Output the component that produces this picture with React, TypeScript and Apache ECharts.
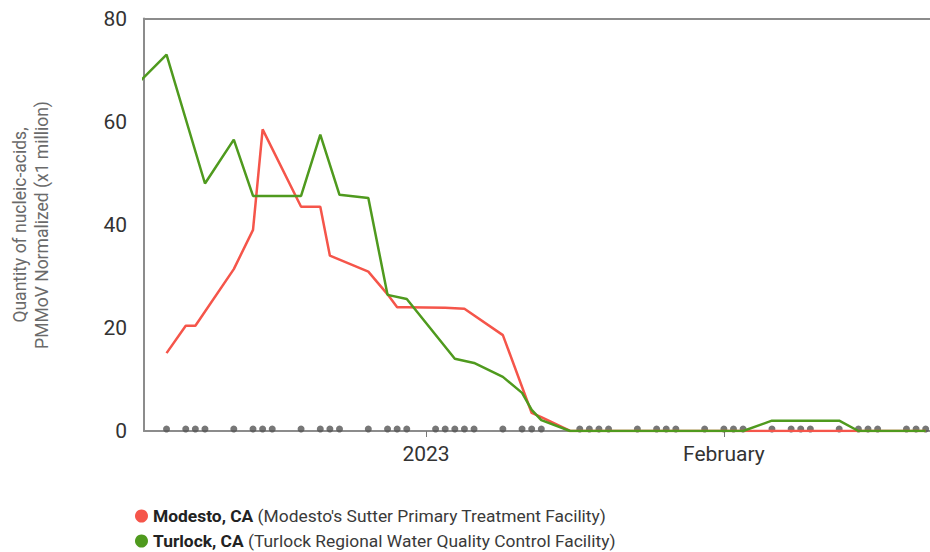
import React, { useEffect, useRef } from "react";
import * as echarts from "echarts";

const modestoDates = [
  "2022-12-05", "2022-12-07", "2022-12-08", "2022-12-12", "2022-12-14", "2022-12-15",
  "2022-12-19", "2022-12-21", "2022-12-22", "2022-12-26", "2022-12-28", "2022-12-29",
  "2022-12-30", "2023-01-03", "2023-01-05", "2023-01-09", "2023-01-12", "2023-01-13",
  "2023-01-16", "2023-01-20", "2023-01-27", "2023-02-03", "2023-02-10", "2023-02-17",
  "2023-02-22",
];
const modestoValues = [
  15.1, 20.4, 20.4, 31.4, 39.0, 58.5,
  43.5, 43.5, 34.0, 30.9, 26.5, 24.0,
  24.0, 23.9, 23.7, 18.6, 3.5, 2.7,
  0, 0, 0, 0, 0, 0,
  0,
];

const turlockDates = [
  "2022-12-01", "2022-12-05", "2022-12-09", "2022-12-12", "2022-12-14", "2022-12-19",
  "2022-12-21", "2022-12-23", "2022-12-26", "2022-12-28", "2022-12-30", "2023-01-04",
  "2023-01-06", "2023-01-09", "2023-01-11", "2023-01-12", "2023-01-13", "2023-01-16",
  "2023-01-20", "2023-01-27", "2023-02-03", "2023-02-06", "2023-02-13", "2023-02-15",
  "2023-02-17", "2023-02-22",
];
const turlockValues = [
  65.5, 73.0, 48.0, 56.5, 45.6, 45.6,
  57.5, 45.8, 45.2, 26.4, 25.6, 14.0,
  13.2, 10.5, 7.4, 4.1, 2.1, 0,
  0, 0, 0, 2.0, 2.0, 0,
  0, 0,
];

const sampleDates = [
  "2022-12-05", "2022-12-07", "2022-12-08", "2022-12-09",
  "2022-12-12", "2022-12-14", "2022-12-15", "2022-12-16",
  "2022-12-19", "2022-12-21", "2022-12-22", "2022-12-23",
  "2022-12-26", "2022-12-28", "2022-12-29", "2022-12-30",
  "2023-01-02", "2023-01-03", "2023-01-04", "2023-01-05", "2023-01-06",
  "2023-01-09", "2023-01-11", "2023-01-12", "2023-01-13",
  "2023-01-17", "2023-01-18", "2023-01-19", "2023-01-20",
  "2023-01-23", "2023-01-25", "2023-01-26", "2023-01-27",
  "2023-01-30", "2023-02-01", "2023-02-02", "2023-02-03",
  "2023-02-06", "2023-02-08", "2023-02-09", "2023-02-10",
  "2023-02-13", "2023-02-15", "2023-02-16", "2023-02-17",
  "2023-02-20", "2023-02-21", "2023-02-22",
];

const xTickDates = ["2023-01-01", "2023-02-01"];
const xTickLabels = ["2023", "February"];
const yTicks = [0, 20, 40, 60, 80];

const seriesNames = ["Modesto, CA", "Turlock, CA"];
const seriesFacilities = [
  "(Modesto's Sutter Primary Treatment Facility)",
  "(Turlock Regional Water Quality Control Facility)",
];
const seriesColors = ["#f5554a", "#4f9a1e"];

const yAxisTitle = ["Quantity of nucleic-acids,", "PMMoV Normalized (x1 million)"];

const DAY = 86400000;
const ts = (s: string) => Date.parse(s);
const FONT = "Roboto, Arial, sans-serif";

export default function App() {
  const ref = useRef<HTMLDivElement>(null);

  useEffect(() => {
    document.body.style.margin = "0";
    if (!ref.current) return;
    const chart = echarts.init(ref.current, null, { renderer: "svg" });

    const jan1 = ts("2023-01-01");
    const xMin = jan1 - 29.345 * DAY;
    const xMax = jan1 + 52.45 * DAY;
    const tickVals = xTickDates.map(ts);

    const lineData = (dates: string[], vals: number[]) =>
      dates.map((d, i) => [ts(d), vals[i]]);

    const axisLineStyle = { color: "#8c8c8c", width: 2 };

    const legendRich = {
      b: { fontSize: 17.4, lineHeight: 18, fontWeight: "bold", color: "#222", fontFamily: FONT },
      r: { fontSize: 17.4, lineHeight: 18, color: "#3a3a3a", fontFamily: FONT },
    };
    const makeLegend = (i: number, top: number) => ({
      orient: "vertical",
      left: 135,
      top,
      padding: 0,
      icon: "circle",
      itemWidth: 13,
      itemHeight: 13,
      itemGap: 0,
      data: [seriesNames[i]],
      selectedMode: false,
      textStyle: { fontSize: 17.4, lineHeight: 18, color: "#333", fontFamily: FONT, rich: legendRich },
      formatter: (name: string) => {
        const k = seriesNames.indexOf(name);
        return `{b|${name}}{r| ${seriesFacilities[k]}}`;
      },
    });

    const option: any = {
      animation: false,
      backgroundColor: "#ffffff",
      grid: {
        left: 144,
        right: 0,
        top: 18.5,
        bottom: 121,
        show: false,
        containLabel: false,
      },
      xAxis: [
        {
          type: "value",
          min: xMin,
          max: xMax,
          axisLine: { show: true, lineStyle: axisLineStyle },
          splitLine: { show: false },
          axisTick: {
            show: true,
            customValues: tickVals,
            length: 6,
            lineStyle: { color: "#777", width: 1 },
          },
          axisLabel: {
            show: true,
            customValues: tickVals,
            margin: 12,
            fontSize: 21,
            color: "#333",
            fontFamily: FONT,
            formatter: (v: number) => {
              const i = tickVals.findIndex((t) => Math.abs(t - v) < DAY / 2);
              return i >= 0 ? xTickLabels[i] : "";
            },
          },
        },
        {
          type: "value",
          position: "top",
          min: xMin,
          max: xMax,
          axisLine: { show: true, onZero: false, lineStyle: axisLineStyle },
          axisTick: { show: false },
          axisLabel: { show: false },
          splitLine: { show: false },
        },
      ],
      yAxis: {
        type: "value",
        min: yTicks[0],
        max: yTicks[yTicks.length - 1],
        interval: 20,
        axisLine: { show: true, lineStyle: axisLineStyle },
        axisTick: { show: false },
        splitLine: { show: false },
        axisLabel: {
          margin: 17,
          fontSize: 21,
          color: "#333",
          fontFamily: FONT,
        },
      },
      legend: [makeLegend(0, 507), makeLegend(1, 532)],
      graphic: [
        {
          type: "text",
          x: 31,
          y: 225,
          rotation: Math.PI / 2,
          style: {
            text: yAxisTitle.join("\n"),
            fontSize: 17.5,
            lineHeight: 22,
            fill: "#6a6a6a",
            fontFamily: FONT,
            align: "center",
            verticalAlign: "middle",
          },
        },
      ],
      series: [
        {
          name: "samples",
          type: "scatter",
          data: sampleDates.map((d) => [ts(d), 0]),
          symbol: "circle",
          symbolSize: 7,
          symbolOffset: [0, -2],
          itemStyle: { color: "#555555" },
          silent: true,
          z: 1,
        },
        {
          name: seriesNames[0],
          type: "line",
          data: lineData(modestoDates, modestoValues),
          showSymbol: false,
          symbol: "circle",
          clip: true,
          color: seriesColors[0],
          lineStyle: { color: seriesColors[0], width: 2.5 },
          z: 2,
        },
        {
          name: seriesNames[1],
          type: "line",
          data: lineData(turlockDates, turlockValues),
          showSymbol: false,
          symbol: "circle",
          clip: true,
          color: seriesColors[1],
          lineStyle: { color: seriesColors[1], width: 2.5 },
          z: 3,
        },
      ],
    };

    chart.setOption(option);
    return () => chart.dispose();
  }, []);

  return <div ref={ref} style={{ width: 930, height: 552 }} />;
}
